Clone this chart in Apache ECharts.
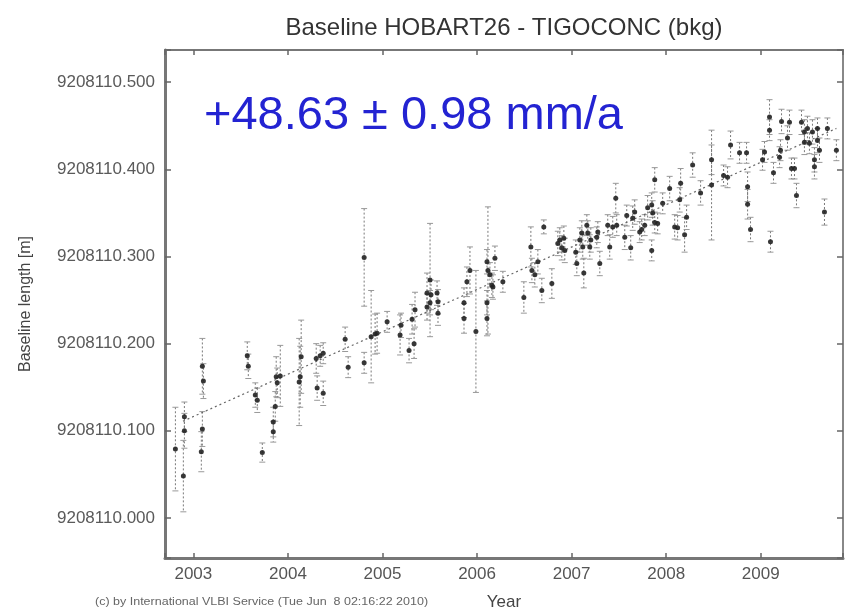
<!DOCTYPE html>
<html>
<head>
<meta charset="utf-8">
<script src="https://cdn.jsdelivr.net/npm/echarts@6/dist/echarts.min.js"></script>
<style>
  html, body { margin: 0; padding: 0; background: #fff; }
  #main { width: 847px; height: 610px; }
</style>
</head>
<body>
<div id="main"></div>
<script>
// epochs (decimal year) of each session
var years = [
  2002.810, 2002.894, 2002.905, 2002.905, 2003.084, 2003.095, 2003.095, 2003.106, 2003.570, 2003.581,
  2003.655, 2003.676, 2003.729, 2003.845, 2003.845, 2003.866, 2003.876, 2003.887, 2003.919, 2004.119,
  2004.130, 2004.140, 2004.299, 2004.309, 2004.341, 2004.373, 2004.373, 2004.605, 2004.637, 2004.806,
  2004.806, 2004.880, 2004.922, 2004.943, 2005.049, 2005.186, 2005.196, 2005.281, 2005.313, 2005.334,
  2005.344, 2005.471, 2005.471, 2005.503, 2005.503, 2005.513, 2005.577, 2005.587, 2005.587, 2005.862,
  2005.862, 2005.893, 2005.925, 2005.988, 2006.105, 2006.105, 2006.105, 2006.115, 2006.136, 2006.157,
  2006.168, 2006.189, 2006.273, 2006.495, 2006.569, 2006.580, 2006.611, 2006.643, 2006.685, 2006.706,
  2006.791, 2006.854, 2006.875, 2006.896, 2006.918, 2006.928, 2007.044, 2007.055, 2007.087, 2007.108,
  2007.118, 2007.129, 2007.161, 2007.171, 2007.192, 2007.203, 2007.266, 2007.277, 2007.298, 2007.382,
  2007.403, 2007.435, 2007.467, 2007.477, 2007.562, 2007.583, 2007.625, 2007.646, 2007.667, 2007.720,
  2007.741, 2007.773, 2007.804, 2007.847, 2007.847, 2007.857, 2007.879, 2007.879, 2007.910, 2007.963,
  2008.037, 2008.090, 2008.121, 2008.143, 2008.153, 2008.195, 2008.216, 2008.280, 2008.364, 2008.480,
  2008.480, 2008.607, 2008.649, 2008.681, 2008.776, 2008.850, 2008.861, 2008.861, 2008.892, 2009.019,
  2009.040, 2009.093, 2009.093, 2009.103, 2009.135, 2009.199, 2009.209, 2009.220, 2009.283, 2009.304,
  2009.325, 2009.357, 2009.378, 2009.431, 2009.462, 2009.462, 2009.494, 2009.515, 2009.547, 2009.568,
  2009.568, 2009.600, 2009.600, 2009.621, 2009.674, 2009.705, 2009.800
];

// baseline length [m]
var lengths = [
  9208110.079, 9208110.048, 9208110.116, 9208110.100, 9208110.076, 9208110.174, 9208110.102, 9208110.157, 9208110.186, 9208110.174,
  9208110.141, 9208110.135, 9208110.075, 9208110.110, 9208110.099, 9208110.128, 9208110.162, 9208110.155, 9208110.163, 9208110.156,
  9208110.162, 9208110.185, 9208110.183, 9208110.149, 9208110.186, 9208110.189, 9208110.143, 9208110.205, 9208110.173, 9208110.299,
  9208110.178, 9208110.208, 9208110.211, 9208110.212, 9208110.225, 9208110.210, 9208110.221, 9208110.192, 9208110.228, 9208110.200,
  9208110.239, 9208110.258, 9208110.242, 9208110.273, 9208110.247, 9208110.256, 9208110.258, 9208110.248, 9208110.235, 9208110.247,
  9208110.229, 9208110.271, 9208110.284, 9208110.214, 9208110.294, 9208110.247, 9208110.229, 9208110.284, 9208110.279, 9208110.267,
  9208110.265, 9208110.298, 9208110.271, 9208110.253, 9208110.311, 9208110.284, 9208110.279, 9208110.294, 9208110.261, 9208110.334,
  9208110.269, 9208110.315, 9208110.319, 9208110.310, 9208110.321, 9208110.307, 9208110.305, 9208110.292, 9208110.319, 9208110.327,
  9208110.311, 9208110.281, 9208110.336, 9208110.327, 9208110.311, 9208110.319, 9208110.322, 9208110.328, 9208110.292, 9208110.336,
  9208110.311, 9208110.334, 9208110.367, 9208110.336, 9208110.322, 9208110.347, 9208110.310, 9208110.344, 9208110.351, 9208110.328,
  9208110.331, 9208110.336, 9208110.356, 9208110.359, 9208110.307, 9208110.350, 9208110.388, 9208110.339, 9208110.338, 9208110.361,
  9208110.378, 9208110.334, 9208110.333, 9208110.365, 9208110.384, 9208110.325, 9208110.345, 9208110.405, 9208110.373, 9208110.411,
  9208110.382, 9208110.393, 9208110.391, 9208110.428, 9208110.419, 9208110.419, 9208110.380, 9208110.360, 9208110.331, 9208110.411,
  9208110.420, 9208110.460, 9208110.445, 9208110.317, 9208110.396, 9208110.414, 9208110.422, 9208110.455, 9208110.436, 9208110.454,
  9208110.401, 9208110.401, 9208110.370, 9208110.454, 9208110.443, 9208110.431, 9208110.447, 9208110.430, 9208110.443, 9208110.411,
  9208110.403, 9208110.447, 9208110.433, 9208110.422, 9208110.351, 9208110.447, 9208110.422
];

// formal errors [m]
var errors = [
  0.048, 0.041, 0.017, 0.020, 0.023, 0.032, 0.020, 0.020, 0.016, 0.014,
  0.014, 0.014, 0.011, 0.017, 0.012, 0.017, 0.023, 0.017, 0.035, 0.050,
  0.035, 0.042, 0.017, 0.014, 0.012, 0.012, 0.014, 0.014, 0.012, 0.056,
  0.012, 0.053, 0.023, 0.023, 0.012, 0.023, 0.014, 0.014, 0.017, 0.017,
  0.020, 0.023, 0.015, 0.065, 0.014, 0.017, 0.014, 0.014, 0.014, 0.017,
  0.017, 0.017, 0.027, 0.070, 0.014, 0.014, 0.020, 0.073, 0.014, 0.014,
  0.014, 0.014, 0.012, 0.018, 0.023, 0.014, 0.014, 0.014, 0.014, 0.008,
  0.017, 0.014, 0.014, 0.014, 0.014, 0.014, 0.014, 0.014, 0.014, 0.014,
  0.014, 0.017, 0.012, 0.014, 0.014, 0.014, 0.012, 0.012, 0.014, 0.012,
  0.014, 0.012, 0.017, 0.012, 0.014, 0.012, 0.014, 0.014, 0.014, 0.012,
  0.012, 0.012, 0.014, 0.014, 0.012, 0.014, 0.014, 0.012, 0.012, 0.012,
  0.014, 0.014, 0.014, 0.014, 0.017, 0.020, 0.014, 0.014, 0.014, 0.017,
  0.063, 0.012, 0.012, 0.016, 0.012, 0.012, 0.017, 0.017, 0.014, 0.012,
  0.012, 0.020, 0.012, 0.012, 0.012, 0.012, 0.012, 0.014, 0.014, 0.014,
  0.012, 0.012, 0.014, 0.014, 0.014, 0.014, 0.014, 0.012, 0.014, 0.014,
  0.014, 0.012, 0.014, 0.014, 0.015, 0.012, 0.012
];

// linear fit, drawn between first and last epoch
var trendYears = [2002.89, 2009.80];
var trendLengths = [9208110.111, 9208110.447];

var rateText = '+48.63 \u00b1 0.98 mm/a';
var titleText = 'Baseline HOBART26 - TIGOCONC (bkg)';
var creditText = '(c) by International VLBI Service (Tue Jun  8 02:16:22 2010)';

var font = '"Liberation Sans", Arial, Helvetica, sans-serif';

var points = years.map(function (t, i) { return [t, lengths[i]]; });
var bars = years.map(function (t, i) { return [t, lengths[i] - errors[i], lengths[i] + errors[i]]; });
var trend = trendYears.map(function (t, i) { return [t, trendLengths[i]]; });

function onTick(v, step) {
  return Math.abs(v / step - Math.round(v / step)) < 1e-4;
}

var chart = echarts.init(document.getElementById('main'), null, { renderer: 'canvas' });

var option = {
  animation: false,
  backgroundColor: '#fff',
  textStyle: { fontFamily: font },
  grid: {
    left: 165, top: 50, right: 4, bottom: 52,
    show: true, borderColor: '#777', borderWidth: 2,
    outerBoundsMode: 'none'
  },
  xAxis: [
    {
      type: 'value', min: 2002.70, max: 2009.87, splitNumber: 7,
      name: 'Year', nameLocation: 'middle', nameGap: 36,
      nameTextStyle: { fontSize: 17, color: '#444', fontFamily: font },
      axisLine: { show: true, lineStyle: { color: '#777', width: 3 } },
      axisTick: { show: true, inside: true, length: 5, lineStyle: { color: '#666', width: 1.5 } },
      axisLabel: {
        margin: 8, fontSize: 17, color: '#555', fontFamily: font,
        formatter: function (v) { return onTick(v, 1) ? String(Math.round(v)) : ''; }
      },
      splitLine: { show: false }
    },
    {
      type: 'value', position: 'top', min: 2002.70, max: 2009.87, splitNumber: 7,
      axisLine: { show: true, lineStyle: { color: '#777', width: 2 } },
      axisTick: { show: true, inside: true, length: 5, lineStyle: { color: '#666', width: 1.5 } },
      axisLabel: { show: false },
      splitLine: { show: false }
    }
  ],
  yAxis: [
    {
      type: 'value', min: 9208109.954, max: 9208110.537, splitNumber: 6, scale: true,
      name: 'Baseline length [m]', nameLocation: 'middle', nameGap: 131, nameRotate: 90,
      nameTextStyle: { fontSize: 16, color: '#444', fontFamily: font },
      axisLine: { show: true, lineStyle: { color: '#777', width: 3 } },
      axisTick: { show: true, inside: true, length: 6, lineStyle: { color: '#666', width: 1.5 } },
      axisLabel: {
        margin: 10, fontSize: 17, color: '#5a5a5a', fontFamily: font,
        formatter: function (v) { return onTick(v, 0.1) ? v.toFixed(3) : ''; }
      },
      splitLine: { show: false }
    },
    {
      type: 'value', position: 'right', min: 9208109.954, max: 9208110.537, splitNumber: 6, scale: true,
      axisLine: { show: true, lineStyle: { color: '#888', width: 2 } },
      axisTick: { show: true, inside: true, length: 6, lineStyle: { color: '#666', width: 1.5 } },
      axisLabel: { show: false },
      splitLine: { show: false }
    }
  ],
  series: [
    {
      type: 'custom',
      name: 'error',
      data: bars,
      encode: { x: 0, y: [1, 2] },
      renderItem: function (params, api) {
        var top = api.coord([api.value(0), api.value(2)]);
        var bot = api.coord([api.value(0), api.value(1)]);
        var w = 3;
        var dotted = { stroke: '#7a7a7a', lineWidth: 1, lineDash: [2, 2] };
        var cap = { stroke: '#999', lineWidth: 1 };
        return {
          type: 'group',
          children: [
            { type: 'line', shape: { x1: top[0], y1: top[1], x2: bot[0], y2: bot[1] }, style: dotted },
            { type: 'line', shape: { x1: top[0] - w, y1: top[1], x2: top[0] + w, y2: top[1] }, style: cap },
            { type: 'line', shape: { x1: bot[0] - w, y1: bot[1], x2: bot[0] + w, y2: bot[1] }, style: cap }
          ]
        };
      },
      z: 2
    },
    {
      type: 'line',
      name: 'fit',
      data: trend,
      symbol: 'none',
      lineStyle: { color: '#666', width: 1.2, type: [2, 3] },
      z: 3
    },
    {
      type: 'scatter',
      name: 'sessions',
      data: points,
      symbol: 'circle',
      symbolSize: 5,
      itemStyle: { color: '#222', opacity: 0.9 },
      z: 4
    }
  ],
  graphic: [
    {
      type: 'text', x: 504, y: 28,
      style: { text: titleText, font: '24px ' + font, fill: '#333', align: 'center', verticalAlign: 'middle' }
    },
    {
      type: 'text', left: 204, top: 93,
      style: { text: rateText, font: '47px ' + font, fill: '#2323d2' }
    },
    {
      type: 'text', x: 95, y: 597, scaleX: 1.25,
      style: { text: creditText, font: '10px ' + font, fill: '#666' }
    }
  ]
};

chart.setOption(option);
</script>
</body>
</html>
